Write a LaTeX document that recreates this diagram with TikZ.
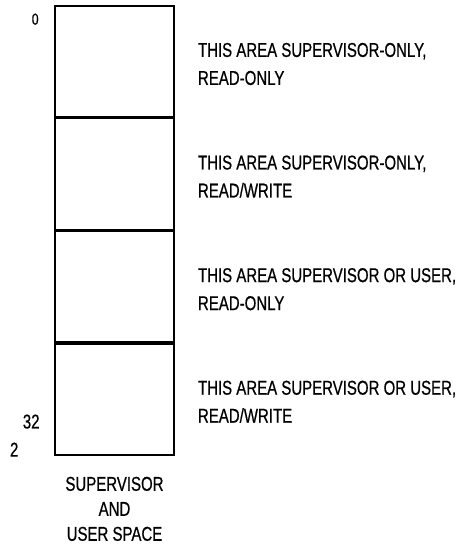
\documentclass[tikz,border=0pt]{standalone}
\usepackage{fontspec}
\setmainfont[FakeStretch=0.75,FakeBold=0.6]{Liberation Sans}
\usetikzlibrary{positioning}

\begin{document}
\begin{tikzpicture}[
    x=1pt,y=-1pt,
    node distance=0pt,
    every node/.style={font=\fontsize{20}{28}\selectfont,inner sep=0pt},
    area/.style={draw,line width=1.6pt,minimum width=119pt,minimum height=111pt},
    note/.style={anchor=west,align=left}
]
\useasboundingbox (0,0) rectangle (461,544);
% memory map, four equal areas
\node[area] (a1) at (114.5,61.5) {};
\node[area,below=of a1] (a2) {};
\node[area,below=of a2] (a3) {};
\node[area,below=of a3] (a4) {};
% address marks
\node (lo) at ([xshift=-19pt,yshift=-14pt]a1.north west) {\fontsize{16}{16}\selectfont 0};
\node (exp) at ([xshift=-23pt,yshift=34pt]a4.south west) {32};
\node (base) at ([xshift=-40pt,yshift=6pt]a4.south west) {2};
% access notes
\node[note] (t1) at ([xshift=23pt,yshift=-2.5pt]a1.east) {THIS AREA SUPERVISOR-ONLY,\\READ-ONLY};
\node[note] (t2) at ([xshift=23pt,yshift=-2.5pt]a2.east) {THIS AREA SUPERVISOR-ONLY,\\READ/WRITE};
\node[note] (t3) at ([xshift=23pt,yshift=-2.5pt]a3.east) {THIS AREA SUPERVISOR OR USER,\\READ-ONLY};
\node[note] (t4) at ([xshift=23pt,yshift=-2.5pt]a4.east) {THIS AREA SUPERVISOR OR USER,\\READ/WRITE};
\node[align=center,below=21pt of a4,font=\fontsize{20}{25}\selectfont] (sp) {SUPERVISOR\\AND\\USER SPACE};
\end{tikzpicture}
\end{document}
